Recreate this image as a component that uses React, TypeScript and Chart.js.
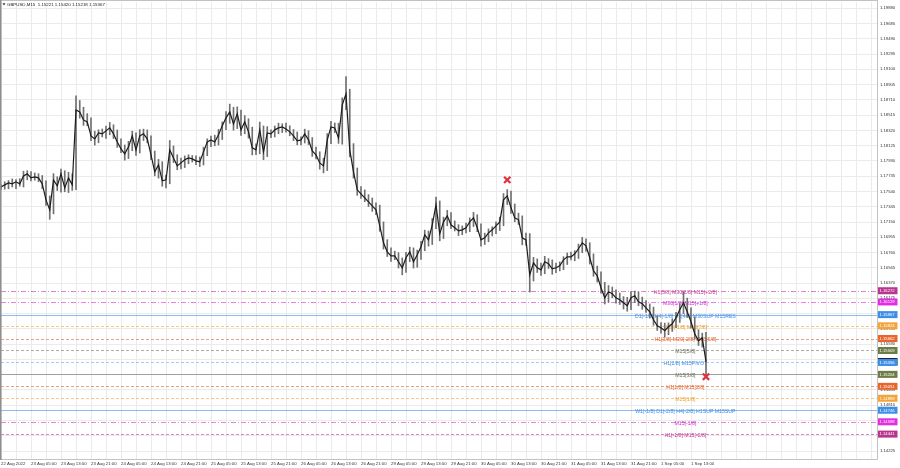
import React, { useEffect, useRef } from 'react';
import { Chart, registerables } from 'chart.js';

Chart.register(...registerables);

const FONT = '"Liberation Sans", Arial, sans-serif';
const PIP = 0.0001;

// Hourly closes (GBPUSD)
const closes = [
  1.17599, 1.17624, 1.1765, 1.17637, 1.17663, 1.17637, 1.17739, 1.17765, 1.17714, 1.17727,
  1.17714, 1.17637, 1.17433, 1.17305, 1.17688, 1.17612, 1.17765, 1.17586, 1.17714, 1.17624,
  1.18582, 1.18556, 1.18454, 1.18429, 1.1825, 1.18212, 1.18288, 1.18276, 1.18314, 1.18352,
  1.18276, 1.18173, 1.18084, 1.1802, 1.1811, 1.1825, 1.18071, 1.1825, 1.18276, 1.18212,
  1.18007, 1.1779, 1.1788, 1.17676, 1.17688, 1.18071, 1.17969, 1.17867, 1.17905, 1.17944,
  1.17969, 1.17956, 1.17931, 1.17918, 1.18046, 1.18173, 1.18199, 1.18173, 1.18263, 1.18378,
  1.1848, 1.18556, 1.18403, 1.18531, 1.18327, 1.18429, 1.18301, 1.18097, 1.18071, 1.18327,
  1.18046, 1.18288, 1.18276, 1.18327, 1.18352, 1.18365, 1.18339, 1.18301, 1.1825, 1.18186,
  1.18199, 1.18276, 1.18199, 1.18058, 1.18007, 1.17905, 1.17867, 1.18199, 1.18365, 1.18352,
  1.18224, 1.18646, 1.18786, 1.18071, 1.1779, 1.17561, 1.1751, 1.17459, 1.17407, 1.17356,
  1.17305, 1.17101, 1.16884, 1.16769, 1.16718, 1.16718, 1.16642, 1.16565, 1.16693, 1.16769,
  1.16642, 1.16731, 1.16833, 1.16986, 1.16922, 1.17114, 1.17369, 1.16999, 1.17152, 1.17229,
  1.17114, 1.17076, 1.17037, 1.1705, 1.17076, 1.17152, 1.17203, 1.17076, 1.16922, 1.16948,
  1.17012, 1.1705, 1.17101, 1.17152, 1.17433, 1.17484, 1.17331, 1.17203, 1.17178, 1.16948,
  1.16922, 1.16476, 1.16629, 1.16565, 1.16539, 1.16642, 1.16616, 1.16552, 1.16565, 1.16591,
  1.16667, 1.16705, 1.16705, 1.16744, 1.16808, 1.16884, 1.16846, 1.16693, 1.16527, 1.16463,
  1.1631, 1.16182, 1.16259, 1.16233, 1.16182, 1.16157, 1.16118, 1.1608, 1.16182, 1.16208,
  1.16131, 1.16105, 1.16054, 1.16003, 1.15901, 1.15825, 1.15799, 1.15761, 1.15812, 1.1585,
  1.15927, 1.16029, 1.16118, 1.16003, 1.15876, 1.15723, 1.15633, 1.15671, 1.15367,
];

// Upper / lower wick lengths in pips
const wickUp = [
  3, 4, 3, 5, 3, 4, 6, 4, 3, 5, 4, 3, 4, 5, 8, 4, 6, 4, 7, 5,
  18, 12, 6, 8, 5, 6, 4, 5, 6, 7, 4, 5, 4, 5, 7, 6, 4, 8, 6, 5,
  4, 5, 7, 4, 6, 12, 5, 4, 6, 5, 4, 3, 4, 5, 6, 4, 5, 6, 7, 5,
  8, 10, 6, 9, 5, 8, 4, 6, 5, 10, 5, 8, 4, 5, 6, 4, 5, 4, 3, 5,
  4, 6, 4, 3, 5, 4, 6, 8, 7, 5, 6, 9, 22, 6, 8, 5, 4, 5, 4, 5,
  4, 6, 5, 4, 5, 6, 4, 5, 7, 6, 5, 6, 7, 6, 5, 8, 10, 5, 6, 7,
  4, 5, 4, 5, 6, 5, 7, 4, 5, 6, 5, 4, 5, 6, 8, 8, 6, 5, 6, 5,
  6, 8, 7, 5, 6, 7, 4, 5, 6, 5, 4, 5, 6, 4, 6, 7, 5, 4, 5, 6,
  5, 7, 8, 6, 5, 6, 4, 7, 8, 6, 5, 6, 4, 5, 6, 5, 4, 6, 5, 6,
  7, 8, 14, 6, 5, 6, 5, 6, 7,
];
const wickDown = [
  4, 3, 5, 4, 6, 3, 4, 5, 4, 3, 5, 6, 7, 12, 5, 6, 8, 5, 6, 7,
  6, 8, 7, 5, 6, 8, 5, 4, 6, 5, 6, 7, 5, 8, 6, 5, 7, 4, 6, 5,
  6, 5, 8, 7, 9, 5, 6, 5, 4, 6, 5, 4, 5, 6, 4, 5, 6, 5, 4, 6,
  5, 7, 8, 6, 7, 5, 8, 9, 6, 5, 10, 6, 5, 4, 5, 6, 4, 5, 6, 5,
  5, 4, 6, 7, 5, 8, 9, 6, 5, 6, 7, 8, 6, 9, 8, 7, 6, 5, 6, 7,
  6, 7, 8, 6, 7, 5, 8, 9, 6, 5, 8, 7, 6, 5, 8, 6, 5, 9, 6, 5,
  5, 4, 6, 5, 4, 5, 6, 5, 8, 6, 5, 4, 5, 6, 5, 6, 7, 5, 6, 9,
  7, 22, 8, 6, 7, 5, 6, 7, 5, 4, 5, 6, 4, 5, 6, 5, 7, 8, 7, 8,
  7, 8, 6, 5, 7, 6, 8, 7, 5, 6, 5, 7, 6, 8, 7, 6, 7, 8, 5, 6,
  5, 6, 5, 7, 8, 7, 6, 8, 18,
];

const timeLabels = [
  '22 Aug 2022', '23 Aug 05:00', '23 Aug 13:00', '23 Aug 21:00', '24 Aug 05:00', '24 Aug 13:00',
  '24 Aug 21:00', '25 Aug 05:00', '25 Aug 13:00', '25 Aug 21:00', '26 Aug 05:00', '26 Aug 13:00',
  '26 Aug 21:00', '29 Aug 05:00', '29 Aug 13:00', '29 Aug 21:00', '30 Aug 05:00', '30 Aug 13:00',
  '30 Aug 21:00', '31 Aug 05:00', '31 Aug 13:00', '31 Aug 21:00', '1 Sep 05:00', '1 Sep 13:00',
];

const priceTicks = [
  1.14225, 1.1442, 1.14615, 1.1481, 1.15005, 1.152, 1.15395, 1.1559, 1.15785, 1.1598,
  1.16175, 1.1637, 1.16565, 1.1676, 1.16955, 1.1715, 1.17345, 1.1754, 1.17735, 1.1793,
  1.18125, 1.1832, 1.18515, 1.1871, 1.18905, 1.191, 1.19295, 1.1949, 1.19685, 1.1988,
];

const levelPrices = [
  1.16272, 1.16129, 1.15967, 1.15824, 1.15662, 1.15509, 1.15356, 1.15204, 1.15051, 1.14899,
  1.14746, 1.14598, 1.14441,
];
const levelNames = [
  'H1[5/8] M30[2/8] M15[+2/8]',
  'M30[1/8] M15[+1/8]',
  'D1[-1/8] H4[-1/8] H1[4/8] M30SUP M15RES',
  'M30[-1/8] M15[7/8]',
  'H1[3/8] M30[-2/8] M15[6/8]',
  'M15[5/8]',
  'H1[2/8] M15PIVOT',
  'M15[3/8]',
  'H1[1/8] M15[2/8]',
  'M15[1/8]',
  'W1[-1/8] D1[-2/8] H4[-2/8] H1SUP M15SUP',
  'M15[-1/8]',
  'H1[-1/8] M15[-2/8]',
];
const currentPrice = 1.15367;
const signalBars = [135, 188];
const signalPrices = [1.17688, 1.15174];
const headerText = 'GBPUSD,M15  1.15221 1.15420 1.15218 1.15367';

// styles
const tagColors = ['#b8348f', '#e22ee2', '#3d8ee6', '#f2a43a', '#e8662c', '#6d7b45', '#3d8ee6', '#6d7b45', '#e8662c', '#f2a43a', '#3d8ee6', '#e22ee2', '#b8348f'];
const textColors = ['#c2389a', '#d42ed4', '#3d8ee6', '#f0a030', '#e0602a', '#6e6e5e', '#3d8ee6', '#6e6e5e', '#e0602a', '#f0a030', '#3d8ee6', '#d42ed4', '#c2389a'];
const lineColors = [
  'rgba(194,56,154,0.6)', 'rgba(212,46,212,0.6)', 'rgba(61,142,230,0.6)', 'rgba(240,160,48,0.6)',
  'rgba(224,96,42,0.6)', 'rgba(110,110,94,0.55)', 'rgba(61,142,230,0.45)', 'rgba(110,110,94,0.6)',
  'rgba(224,96,42,0.6)', 'rgba(240,160,48,0.6)', 'rgba(61,142,230,0.6)', 'rgba(212,46,212,0.6)',
  'rgba(194,56,154,0.6)',
];
const lineStyles = ['dashdot', 'dashdot', 'solid', 'dash', 'dash', 'dash', 'dash', 'solid', 'dash', 'dash', 'solid', 'dashdot', 'dash'];
const DASHES: Record<string, number[]> = { solid: [], dash: [3, 2], dashdot: [5, 2, 1, 2] };
const LABEL_BAR = 182.5;
const X_MAX = 233.6;

export default function App() {
  const ref = useRef<HTMLCanvasElement>(null);

  useEffect(() => {
    const canvas = ref.current;
    if (!canvas) return;

    const opens = closes.map((c, i) => (i === 0 ? c : closes[i - 1]));
    const wickData = closes.map((c, i) => ({
      x: i,
      y: [Math.min(opens[i], c) - wickDown[i] * PIP, Math.max(opens[i], c) + wickUp[i] * PIP],
    }));
    const closeData = closes.map((c, i) => ({ x: i, y: c }));
    const signalData = signalBars.map((b, i) => ({ x: b, y: signalPrices[i] }));
    const gridBars: number[] = [];
    for (let v = 0; v <= X_MAX; v += 4) gridBars.push(v);

    const overlay = {
      id: 'overlay',
      beforeDraw(chart: any) {
        const { ctx } = chart;
        ctx.save();
        ctx.fillStyle = '#ffffff';
        ctx.fillRect(0, 0, chart.width, chart.height);
        ctx.restore();
      },
      beforeDatasetsDraw(chart: any) {
        const { ctx, chartArea: a } = chart;
        const xs = chart.scales.x;
        const ys = chart.scales.y;
        ctx.save();
        ctx.beginPath();
        ctx.rect(a.left, a.top, a.right - a.left, a.bottom - a.top);
        ctx.clip();
        levelPrices.forEach((p, i) => {
          const py = Math.round(ys.getPixelForValue(p)) + 0.5;
          ctx.strokeStyle = lineColors[i];
          ctx.lineWidth = 1;
          ctx.setLineDash(DASHES[lineStyles[i]]);
          ctx.beginPath();
          ctx.moveTo(a.left, py);
          ctx.lineTo(a.right, py);
          ctx.stroke();
        });
        ctx.setLineDash([]);
        ctx.font = `5.2px ${FONT}`;
        ctx.textAlign = 'center';
        ctx.textBaseline = 'middle';
        const lx = xs.getPixelForValue(LABEL_BAR);
        levelNames.forEach((n, i) => {
          ctx.fillStyle = textColors[i];
          ctx.fillText(n, lx, ys.getPixelForValue(levelPrices[i]) + 1.5);
        });
        ctx.restore();
      },
      afterDraw(chart: any) {
        const { ctx, chartArea: a } = chart;
        const ys = chart.scales.y;
        ctx.save();
        // frame
        ctx.strokeStyle = '#c2c2c2';
        ctx.lineWidth = 1;
        ctx.beginPath();
        ctx.moveTo(0, 0.5);
        ctx.lineTo(a.right + 0.5, 0.5);
        ctx.moveTo(a.right + 0.5, 0);
        ctx.lineTo(a.right + 0.5, a.bottom + 0.5);
        ctx.moveTo(0, a.bottom + 0.5);
        ctx.lineTo(a.right + 0.5, a.bottom + 0.5);
        ctx.stroke();
        ctx.fillStyle = '#8f8f8f';
        ctx.fillRect(0, 0, 1.5, a.bottom + 1);

        // price tags on the axis
        const tag = (p: number, color: string) => {
          const py = ys.getPixelForValue(p);
          ctx.fillStyle = color;
          ctx.fillRect(ys.left + 1, py - 3.5, 19.5, 7);
          ctx.fillStyle = '#ffffff';
          ctx.font = `4.2px ${FONT}`;
          ctx.textAlign = 'left';
          ctx.textBaseline = 'middle';
          ctx.fillText(p.toFixed(5), ys.left + 2.5, py + 0.2);
        };
        tag(currentPrice, '#111111');
        levelPrices.forEach((p, i) => tag(p, tagColors[i]));

        // header
        ctx.fillStyle = '#333333';
        ctx.beginPath();
        ctx.moveTo(2.5, 3.3);
        ctx.lineTo(5.5, 3.3);
        ctx.lineTo(4, 5.6);
        ctx.closePath();
        ctx.fill();
        ctx.fillStyle = '#1a1a1a';
        ctx.font = `4.4px ${FONT}`;
        ctx.textAlign = 'left';
        ctx.textBaseline = 'middle';
        ctx.fillText(headerText, 7, 4.8);
        ctx.restore();
      },
    };

    const chart = new Chart(canvas, {
      type: 'bar',
      data: {
        datasets: [
          {
            type: 'line',
            data: signalData,
            showLine: false,
            pointStyle: 'crossRot',
            pointRadius: 4.5,
            pointBorderWidth: 2.2,
            pointBorderColor: '#e0323f',
            pointBackgroundColor: '#e0323f',
            order: 0,
          } as any,
          {
            type: 'line',
            data: closeData,
            borderColor: '#1c1c1c',
            borderWidth: 1.2,
            pointRadius: 0,
            tension: 0,
            order: 1,
          } as any,
          {
            type: 'bar',
            data: wickData,
            backgroundColor: '#707070',
            borderWidth: 0,
            barThickness: 1,
            grouped: false,
            order: 2,
          } as any,
        ],
      },
      options: {
        responsive: false,
        animation: false,
        events: [],
        layout: { autoPadding: false, padding: { left: 1, top: 2, right: 0, bottom: 0 } },
        plugins: { legend: { display: false }, tooltip: { enabled: false } },
        scales: {
          x: {
            type: 'linear',
            min: 0,
            max: X_MAX,
            offset: false,
            afterBuildTicks: (s: any) => {
              s.ticks = gridBars.map((v) => ({ value: v }));
            },
            afterFit: (s: any) => {
              s.height = 9;
              s.paddingLeft = 0;
              s.paddingRight = 0;
            },
            grid: { color: '#ebebeb', drawTicks: false, lineWidth: 1, offset: false },
            border: { display: false },
            ticks: {
              autoSkip: false,
              maxRotation: 0,
              minRotation: 0,
              align: 'start',
              padding: 2,
              color: '#333333',
              font: { family: FONT, size: 4.3 },
              callback: (v: any) => {
                const n = Number(v);
                return n % 8 === 0 && n / 8 < timeLabels.length ? timeLabels[n / 8] : '';
              },
            },
          } as any,
          y: {
            type: 'linear',
            position: 'right',
            min: 1.14123,
            max: 1.1996,
            afterBuildTicks: (s: any) => {
              s.ticks = priceTicks.map((v) => ({ value: v }));
            },
            afterFit: (s: any) => {
              s.width = 23;
              s.paddingTop = 0;
              s.paddingBottom = 0;
            },
            grid: { color: '#ebebeb', drawTicks: false, lineWidth: 1 },
            border: { display: false },
            ticks: {
              padding: 3,
              color: '#333333',
              font: { family: FONT, size: 4.2 },
              callback: (v: any) => Number(v).toFixed(5),
            },
          } as any,
        },
      },
      plugins: [overlay],
    });

    return () => chart.destroy();
  }, []);

  return (
    <div style={{ position: 'fixed', left: 0, top: 0, width: 900, height: 468, background: '#fff' }}>
      <canvas ref={ref} width={900} height={468} style={{ display: 'block', width: 900, height: 468 }} />
    </div>
  );
}
